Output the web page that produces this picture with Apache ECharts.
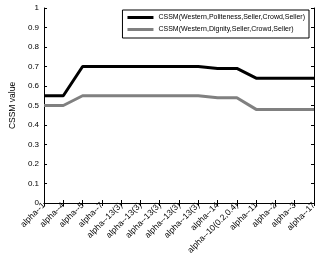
<!DOCTYPE html>
<html><head><meta charset="utf-8">
<script src="https://cdn.jsdelivr.net/npm/echarts@6/dist/echarts.min.js"></script>
<style>html,body{margin:0;padding:0;background:#fff}#c{width:332px;height:261px}</style>
</head><body><div id="c"></div>
<script>
const categories = ['alpha--1','alpha--4','alpha--5','alpha--7','alpha--13(3)','alpha--13(3)','alpha--13(3)','alpha--13(3)','alpha--13(3)','alpha--14','alpha--10(0.2,0.4)','alpha--11','alpha--2','alpha--3','alpha--17'];
const politeness = [0.55,0.55,0.70,0.70,0.70,0.70,0.70,0.70,0.70,0.69,0.69,0.64,0.64,0.64,0.64];
const dignity = [0.50,0.50,0.55,0.55,0.55,0.55,0.55,0.55,0.55,0.54,0.54,0.48,0.48,0.48,0.48];
const seriesNames = ['CSSM(Western,Politeness,Seller,Crowd,Seller)','CSSM(Western,Dignity,Seller,Crowd,Seller)'];
const yTicks = {min:0,max:1,interval:0.1};

const font = 'Liberation Sans, Arial, sans-serif';
const chart = echarts.init(document.getElementById('c'));
const axisLine = {show:true, lineStyle:{color:'#000', width:1}};
const tick = {show:true, inside:true, length:3, lineStyle:{color:'#000', width:1}};
chart.setOption({
  animation:false,
  backgroundColor:'#fff',
  grid:{left:35, right:18, top:8, bottom:58, containLabel:false},
  legend:{
    orient:'vertical', right:23, top:10, itemWidth:26, itemHeight:3, itemGap:5,
    padding:[4,4,5,5], borderColor:'#000', borderWidth:1, backgroundColor:'#fff',
    icon:'rect',
    textStyle:{fontFamily:font, fontSize:7, color:'#000'},
    data:seriesNames
  },
  xAxis:[{
    type:'category', data:categories, boundaryGap:false,
    axisLine, axisTick:Object.assign({alignWithLabel:true, interval:0}, tick),
    axisLabel:{interval:0, rotate:45, fontFamily:font, fontSize:8.5, color:'#000', margin:1},
    splitLine:{show:false}
  },{
    type:'category', data:categories, boundaryGap:false, position:'top',
    axisLine, axisTick:Object.assign({interval:0}, tick), axisLabel:{show:false}, splitLine:{show:false}
  }],
  yAxis:[{
    type:'value', min:yTicks.min, max:yTicks.max, interval:yTicks.interval,
    name:'CSSM value', nameLocation:'middle', nameGap:24,
    nameTextStyle:{fontFamily:font, fontSize:8.5, color:'#000'},
    axisLine, axisTick:tick,
    axisLabel:{fontFamily:font, fontSize:8, color:'#000', margin:5,
      formatter:v=>String(Math.round(v*10)/10)},
    splitLine:{show:false}
  },{
    type:'value', min:yTicks.min, max:yTicks.max, interval:yTicks.interval, position:'right',
    axisLine, axisTick:tick, axisLabel:{show:false}, splitLine:{show:false}
  }],
  series:[
    {name:seriesNames[0], type:'line', data:politeness, symbol:'none', color:'#000', lineStyle:{width:3, color:'#000'}},
    {name:seriesNames[1], type:'line', data:dignity, symbol:'none', color:'#808080', lineStyle:{width:3, color:'#808080'}}
  ]
});
</script></body></html>
